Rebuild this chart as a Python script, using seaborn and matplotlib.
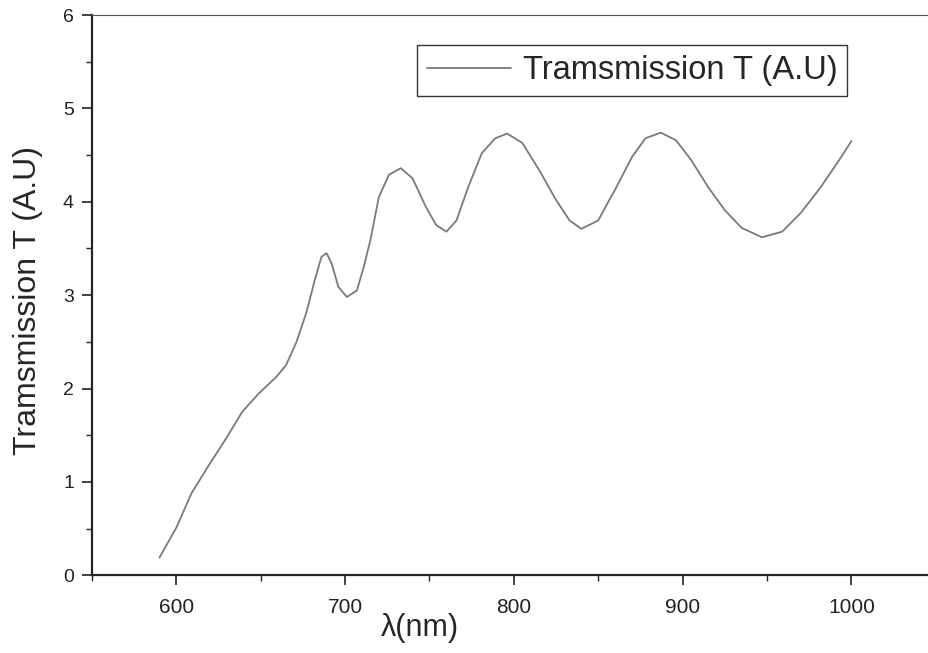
import numpy as np
import matplotlib
matplotlib.use("Agg")
import matplotlib.pyplot as plt
import pandas as pd
import seaborn as sns

# wavelength (nm) and transmission values
wavelength = [590, 600, 609, 620, 630, 639, 649, 659, 665, 671, 677, 682, 686,
              689, 692, 696, 701, 707, 711, 715, 720, 726, 733, 740, 748, 754,
              760, 766, 773, 781, 789, 796, 805, 815, 825, 833, 840, 850, 856,
              860, 870, 878, 887, 896, 905, 915, 925, 935, 947, 959, 970, 982,
              994, 1000]
transmission = [0.19, 0.51, 0.88, 1.20, 1.48, 1.75, 1.95, 2.12, 2.25, 2.49, 2.81,
                3.16, 3.41, 3.45, 3.34, 3.09, 2.98, 3.05, 3.30, 3.59, 4.05, 4.29,
                4.36, 4.25, 3.94, 3.75, 3.68, 3.80, 4.16, 4.52, 4.68, 4.73, 4.63,
                4.34, 4.02, 3.80, 3.71, 3.80, 4.00, 4.13, 4.48, 4.68, 4.74, 4.66,
                4.45, 4.16, 3.91, 3.72, 3.62, 3.68, 3.88, 4.16, 4.48, 4.65]

df = pd.DataFrame({"wl": wavelength, "T": transmission})

sns.set_style("ticks")
plt.rcParams['font.family'] = ['Liberation Sans', 'DejaVu Sans']

fig = plt.figure(figsize=(9.29, 6.53), dpi=100)
ax = fig.add_axes([0.099, 0.119, 0.901, 0.858])

sns.lineplot(data=df, x="wl", y="T", ax=ax, color="#7a7a7a", linewidth=1.3,
             label="Tramsmission T (A.U)")

ax.set_xlim(550, 1046)
ax.set_ylim(0, 6)
ax.set_xticks([600, 700, 800, 900, 1000])
ax.set_xticks(np.arange(550, 1050, 50), minor=True)
ax.set_yticks(range(0, 7))
ax.set_yticks(np.arange(0, 6.5, 0.5), minor=True)
ax.tick_params(which="major", direction="out", length=7, width=1.2, colors="#222222")
ax.tick_params(axis="x", which="major", labelsize=15, pad=9)
ax.tick_params(axis="y", which="major", labelsize=14, pad=6)
ax.tick_params(which="minor", direction="out", length=4, width=1.0)

ax.spines["right"].set_visible(False)
ax.spines["left"].set_linewidth(1.6)
ax.spines["bottom"].set_linewidth(1.6)
ax.spines["top"].set_linewidth(0.8)
ax.spines["top"].set_color("#555555")

ax.set_xlabel("λ(nm)", fontsize=22)
ax.xaxis.set_label_coords(0.392, -0.068)
ax.set_ylabel("Tramsmission T (A.U)", fontsize=23)
ax.yaxis.set_label_coords(-0.058, 0.49)

leg = ax.legend(loc="upper left", bbox_to_anchor=(0.388, 0.946), borderaxespad=0,
                fontsize=23.5, handlelength=2.6, fancybox=False, edgecolor="#333333",
                framealpha=1, borderpad=0.3, handletextpad=0.35)
leg.get_frame().set_linewidth(1.0)

fig.savefig("out.png", dpi=100)
